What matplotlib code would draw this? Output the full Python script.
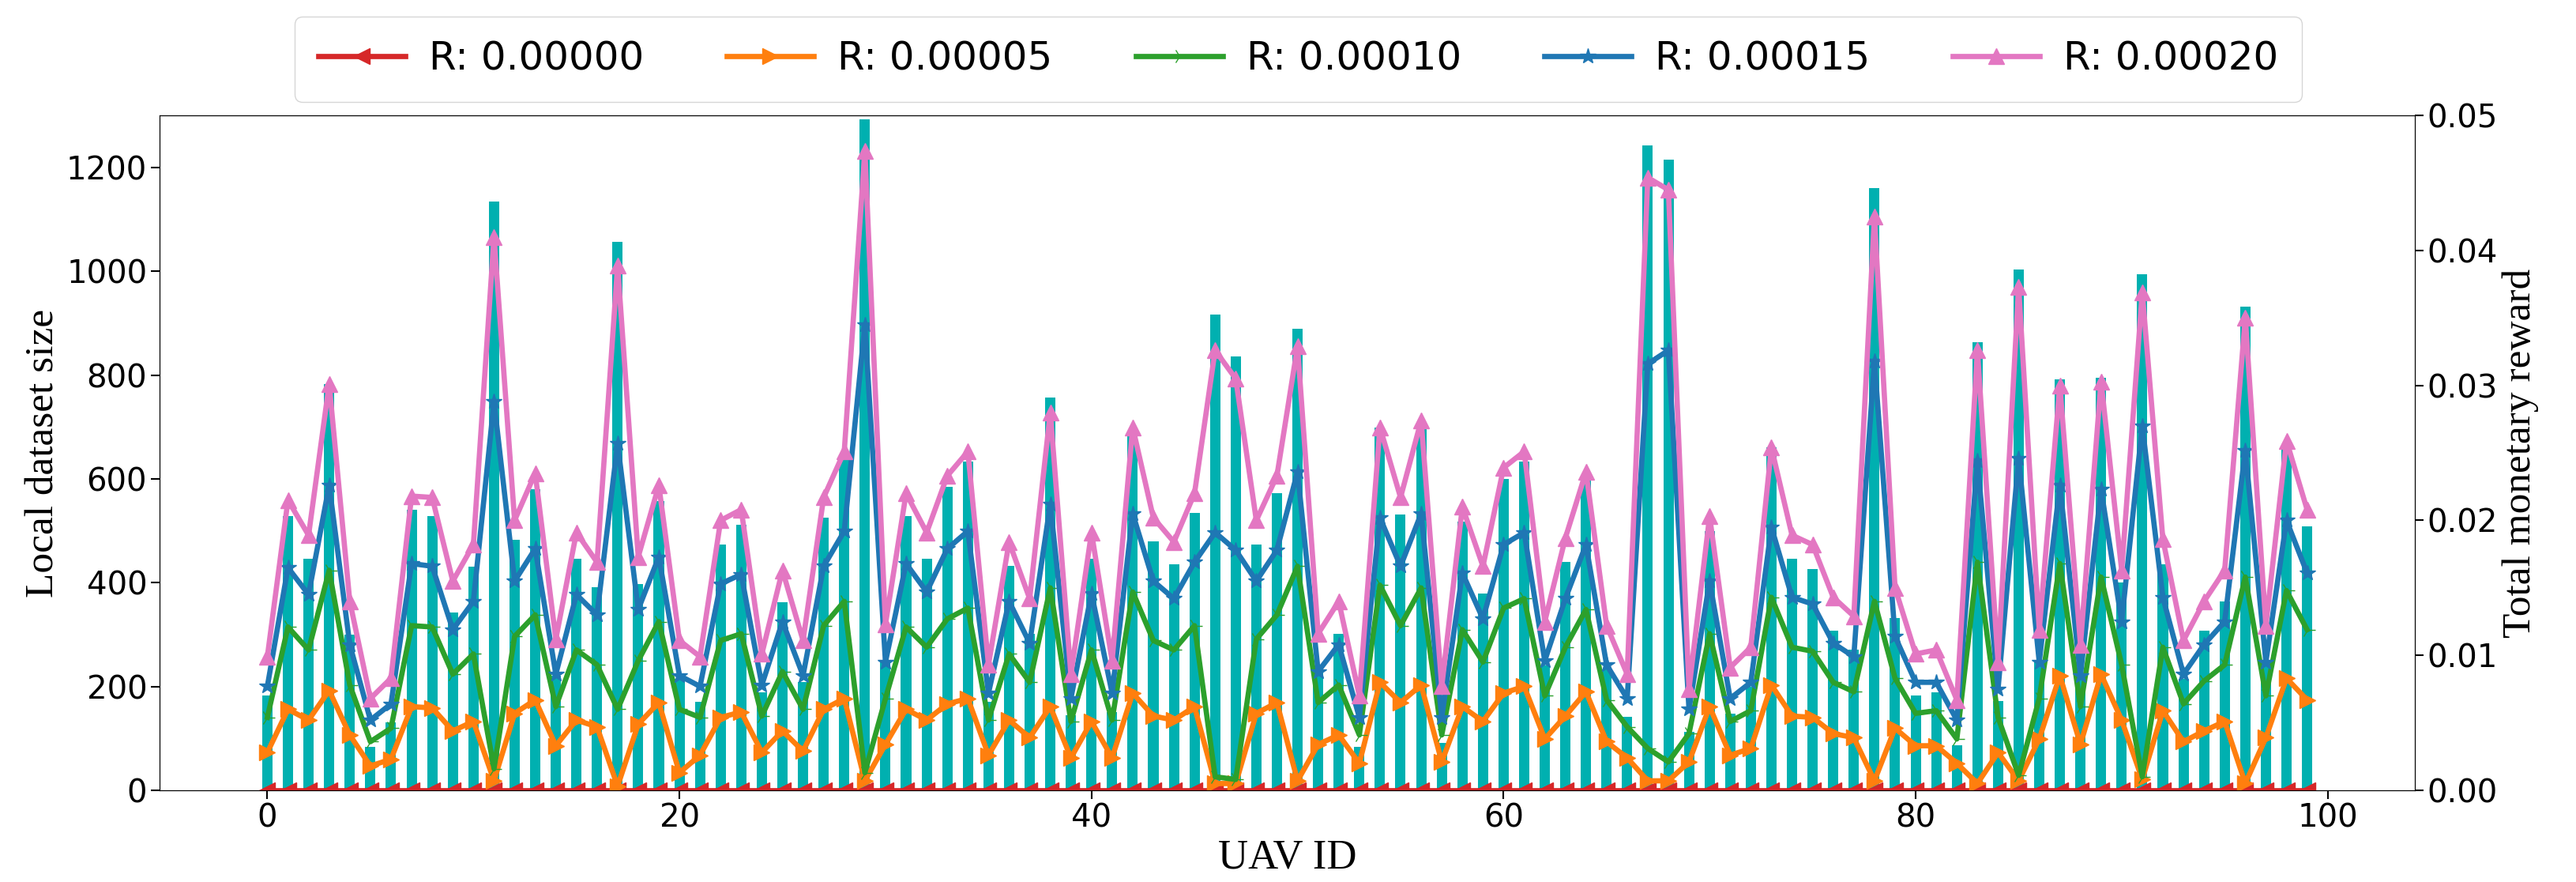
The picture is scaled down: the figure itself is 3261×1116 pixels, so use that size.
import numpy as np
import matplotlib
matplotlib.use("Agg")
import matplotlib.pyplot as plt

# UAV ids and local dataset sizes
uav_ids = list(range(100))
dataset_size = [182, 529, 446, 782, 300, 83, 131, 540, 529, 343,
                 431, 1135, 483, 580, 220, 446, 391, 1057, 398, 557,
                 215, 171, 474, 511, 188, 362, 209, 525, 641, 1293,
                 246, 528, 446, 584, 633, 170, 432, 301, 756, 145,
                 446, 150, 682, 479, 436, 535, 916, 836, 474, 572,
                 889, 235, 301, 83, 699, 532, 707, 91, 517, 379,
                 600, 634, 240, 440, 601, 233, 142, 1243, 1215, 112,
                 500, 147, 199, 661, 446, 426, 307, 271, 1160, 332,
                 182, 189, 86, 864, 172, 1004, 246, 792, 220, 794,
                 400, 994, 436, 214, 307, 364, 932, 240, 661, 508]

# total monetary reward for each R value
reward_r00 = [0.0] * 100
reward_r05 = [0.0028, 0.0060, 0.0052, 0.0074, 0.0041, 0.0018, 0.0023, 0.0062, 0.0061, 0.0044,
              0.0051, 0.0007, 0.0057, 0.0067, 0.0033, 0.0052, 0.0047, 0.0003, 0.0049, 0.0065,
              0.0013, 0.0026, 0.0054, 0.0058, 0.0028, 0.0044, 0.0029, 0.0060, 0.0068, 0.0007,
              0.0034, 0.0060, 0.0052, 0.0064, 0.0068, 0.0026, 0.0052, 0.0039, 0.0062, 0.0024,
              0.0051, 0.0024, 0.0072, 0.0055, 0.0052, 0.0062, 0.0005, 0.0005, 0.0057, 0.0065,
              0.0007, 0.0034, 0.0041, 0.0020, 0.0080, 0.0065, 0.0078, 0.0021, 0.0062, 0.0051,
              0.0072, 0.0077, 0.0038, 0.0055, 0.0073, 0.0036, 0.0024, 0.0007, 0.0007, 0.0021,
              0.0062, 0.0026, 0.0031, 0.0078, 0.0055, 0.0054, 0.0042, 0.0039, 0.0007, 0.0046,
              0.0033, 0.0033, 0.0020, 0.0005, 0.0028, 0.0007, 0.0038, 0.0085, 0.0034, 0.0086,
              0.0052, 0.0008, 0.0059, 0.0036, 0.0044, 0.0051, 0.0005, 0.0039, 0.0083, 0.0067]
reward_r10 = [0.0054, 0.0121, 0.0104, 0.0163, 0.0078, 0.0036, 0.0046, 0.0122, 0.0121, 0.0086,
              0.0101, 0.0016, 0.0114, 0.0130, 0.0062, 0.0104, 0.0093, 0.0060, 0.0096, 0.0125,
              0.0060, 0.0054, 0.0111, 0.0116, 0.0055, 0.0088, 0.0060, 0.0122, 0.0140, 0.0013,
              0.0068, 0.0121, 0.0106, 0.0127, 0.0135, 0.0052, 0.0101, 0.0080, 0.0150, 0.0051,
              0.0104, 0.0052, 0.0147, 0.0111, 0.0104, 0.0122, 0.0010, 0.0008, 0.0112, 0.0130,
              0.0166, 0.0065, 0.0078, 0.0041, 0.0152, 0.0122, 0.0150, 0.0041, 0.0119, 0.0095,
              0.0135, 0.0142, 0.0070, 0.0106, 0.0134, 0.0067, 0.0047, 0.0031, 0.0021, 0.0042,
              0.0116, 0.0051, 0.0059, 0.0143, 0.0106, 0.0103, 0.0080, 0.0073, 0.0140, 0.0083,
              0.0057, 0.0059, 0.0038, 0.0169, 0.0054, 0.0011, 0.0068, 0.0168, 0.0062, 0.0158,
              0.0093, 0.0010, 0.0106, 0.0064, 0.0081, 0.0093, 0.0158, 0.0070, 0.0148, 0.0119]
reward_r15 = [0.0077, 0.0165, 0.0145, 0.0226, 0.0108, 0.0052, 0.0064, 0.0168, 0.0166, 0.0119,
              0.0140, 0.0288, 0.0155, 0.0179, 0.0086, 0.0145, 0.0130, 0.0257, 0.0134, 0.0173,
              0.0085, 0.0077, 0.0153, 0.0160, 0.0078, 0.0125, 0.0085, 0.0166, 0.0192, 0.0345,
              0.0095, 0.0168, 0.0147, 0.0179, 0.0192, 0.0072, 0.0140, 0.0109, 0.0212, 0.0068,
              0.0146, 0.0072, 0.0205, 0.0155, 0.0142, 0.0169, 0.0191, 0.0178, 0.0155, 0.0178,
              0.0236, 0.0088, 0.0108, 0.0054, 0.0202, 0.0166, 0.0205, 0.0054, 0.0161, 0.0127,
              0.0182, 0.0191, 0.0096, 0.0142, 0.0182, 0.0093, 0.0068, 0.0316, 0.0326, 0.0060,
              0.0155, 0.0068, 0.0080, 0.0195, 0.0143, 0.0138, 0.0109, 0.0099, 0.0318, 0.0114,
              0.0080, 0.0080, 0.0052, 0.0244, 0.0075, 0.0246, 0.0095, 0.0226, 0.0085, 0.0223,
              0.0125, 0.0270, 0.0143, 0.0086, 0.0108, 0.0125, 0.0252, 0.0095, 0.0200, 0.0161]
reward_r20 = [0.0099, 0.0215, 0.0189, 0.0301, 0.0140, 0.0068, 0.0083, 0.0218, 0.0217, 0.0155,
              0.0182, 0.0410, 0.0200, 0.0235, 0.0112, 0.0191, 0.0169, 0.0389, 0.0173, 0.0226,
              0.0111, 0.0099, 0.0200, 0.0208, 0.0101, 0.0163, 0.0111, 0.0217, 0.0251, 0.0474,
              0.0123, 0.0220, 0.0191, 0.0233, 0.0251, 0.0093, 0.0184, 0.0142, 0.0280, 0.0086,
              0.0191, 0.0096, 0.0269, 0.0202, 0.0184, 0.0220, 0.0326, 0.0305, 0.0200, 0.0233,
              0.0329, 0.0116, 0.0140, 0.0070, 0.0269, 0.0217, 0.0274, 0.0077, 0.0210, 0.0166,
              0.0239, 0.0251, 0.0125, 0.0187, 0.0236, 0.0122, 0.0086, 0.0454, 0.0445, 0.0075,
              0.0203, 0.0091, 0.0106, 0.0254, 0.0189, 0.0182, 0.0143, 0.0129, 0.0425, 0.0150,
              0.0101, 0.0104, 0.0067, 0.0326, 0.0095, 0.0373, 0.0119, 0.0300, 0.0108, 0.0303,
              0.0163, 0.0369, 0.0186, 0.0111, 0.0140, 0.0163, 0.0350, 0.0122, 0.0259, 0.0208]

series = [
    ("R: 0.00000", reward_r00, "tab:red", "<"),
    ("R: 0.00005", reward_r05, "tab:orange", ">"),
    ("R: 0.00010", reward_r10, "tab:green", "4"),
    ("R: 0.00015", reward_r15, "tab:blue", "*"),
    ("R: 0.00020", reward_r20, "tab:pink", "^"),
]

fig, ax = plt.subplots(figsize=(32.61, 11.16), dpi=100)
fig.subplots_adjust(left=0.062, right=0.9374, top=0.869, bottom=0.104)

ax.bar(uav_ids, dataset_size, width=0.5, color="#00B0B0")
ax.set_ylim(0, 1300)
ax.set_xlabel("UAV ID", fontsize=38, family="Liberation Serif")
ax.set_ylabel("Local dataset size", fontsize=37, family="Liberation Serif")
ax.tick_params(axis="both", labelsize=29, length=8, width=1.5)

ax2 = ax.twinx()
handles = []
for label, values, color, marker in series:
    h, = ax2.plot(uav_ids, values, color=color, marker=marker, lw=4.8,
                  markersize=15, label=label)
    handles.append(h)
ax2.set_ylim(0, 0.05)
ax2.set_ylabel("Total monetary reward", fontsize=37, family="Liberation Serif")
ax2.tick_params(axis="y", labelsize=29, length=8, width=1.5)
ax2.yaxis.set_major_formatter(matplotlib.ticker.FormatStrFormatter("%.2f"))

ax2.legend(handles=handles, loc="lower center", bbox_to_anchor=(0.505, 1.0),
           ncol=5, fontsize=36, frameon=True, columnspacing=2.1,
           handlelength=2.2, handletextpad=0.6, borderpad=0.6,
           borderaxespad=0.35)

plt.savefig("out.png", dpi=100)
